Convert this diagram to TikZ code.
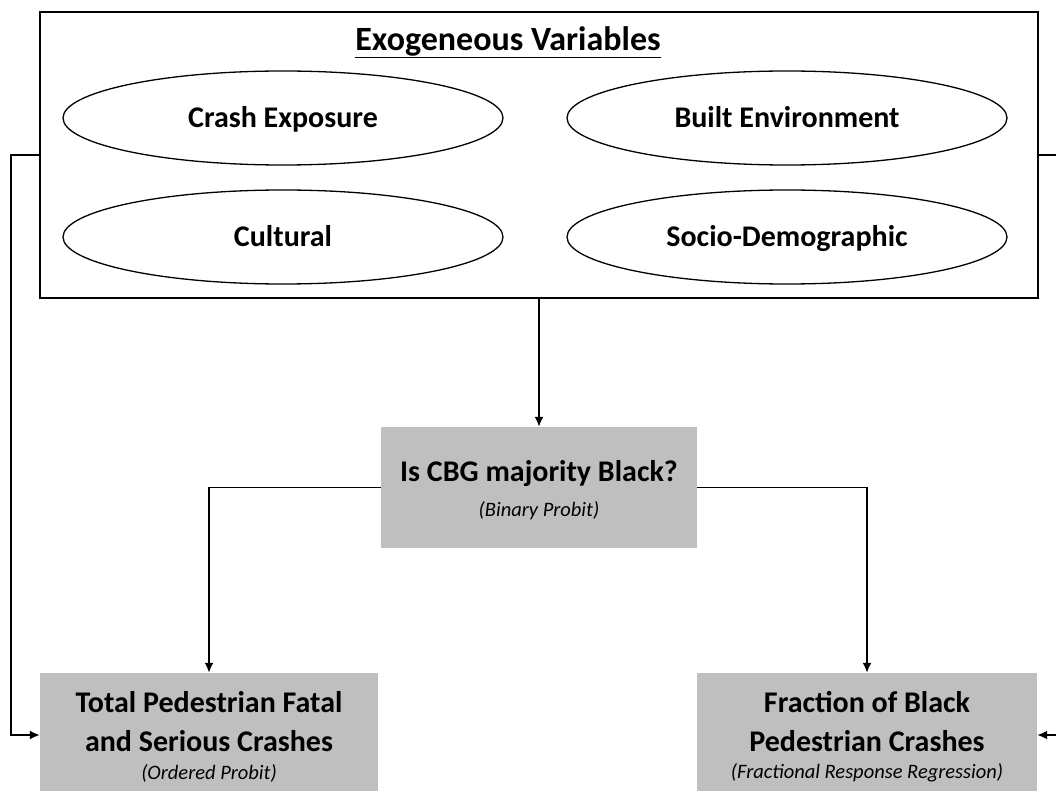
\documentclass[tikz,border=0pt]{standalone}
\usepackage{fontspec}
\setmainfont{Carlito}
\usetikzlibrary{arrows.meta,shapes.geometric}
\definecolor{boxgray}{RGB}{191,191,191}
\begin{document}
\begin{tikzpicture}[x=1pt,y=-1pt,
  outerbox/.style={draw, line width=1.8pt, minimum width=998pt, minimum height=286pt, inner sep=0pt},
  ell/.style={ellipse, draw, line width=1.3pt, minimum width=440pt, minimum height=94pt, inner sep=0pt,
     text height=19.3pt, text depth=0pt,
     font=\fontsize{30}{36}\selectfont\bfseries},
  gbox/.style={fill=boxgray, draw=none, align=center, inner sep=0pt,
     font=\fontsize{30}{39}\selectfont\bfseries},
  sub/.style={font=\fontsize{20.5}{24}\selectfont\itshape},
  conn/.style={line width=1.8pt, -{Latex[length=10pt,width=9pt]}},
  ttl/.style={font=\fontsize{34}{40}\selectfont\bfseries}
]
\useasboundingbox (0,0) rectangle (1056,791);
\clip (0,0) rectangle (1056,791);
\fill[white] (0,0) rectangle (1056,791);

\node[outerbox] (outer) at (539,155) {};
\node[ttl] (title) at (508,42) {\underline{Exogeneous Variables}};
\node[ell] (e1) at (283,118) {Crash Exposure};
\node[ell] (e2) at (787,118) {Built Environment};
\node[ell] (e3) at (283,237) {Cultural};
\node[ell] (e4) at (787,237) {Socio-Demographic};

\node[gbox, minimum width=316pt, minimum height=121pt] (cbg) at (539,487.5) {};
\node[gbox] (cbgt) at (539,474) {Is CBG majority Black?};
\node[sub] (cbgs) at (539,511) {(Binary Probit)};

\node[gbox, minimum width=338pt, minimum height=124pt] (bl) at (209,735) {};
\node[gbox] (blt) at (209,722) {Total Pedestrian Fatal\\and Serious Crashes};
\node[sub] (bls) at (209,773) {(Ordered Probit)};

\node[gbox, minimum width=340pt, minimum height=124pt] (br) at (867,735) {};
\node[gbox] (brt) at (867,722) {Fraction of Black\\Pedestrian Crashes};
\node[sub] (brs) at (867,773) {(Fractional Response Regression)};

\draw[conn] (outer.south) -- (cbg.north);
\draw[conn] (cbg.west) -| (bl.north);
\draw[conn] (cbg.east) -| (br.north);
\draw[conn] (outer.west) -- ++(-28,0) |- (bl.west);
\draw[conn] (outer.east) -- ++(30,0) |- (br.east);
\end{tikzpicture}
\end{document}
